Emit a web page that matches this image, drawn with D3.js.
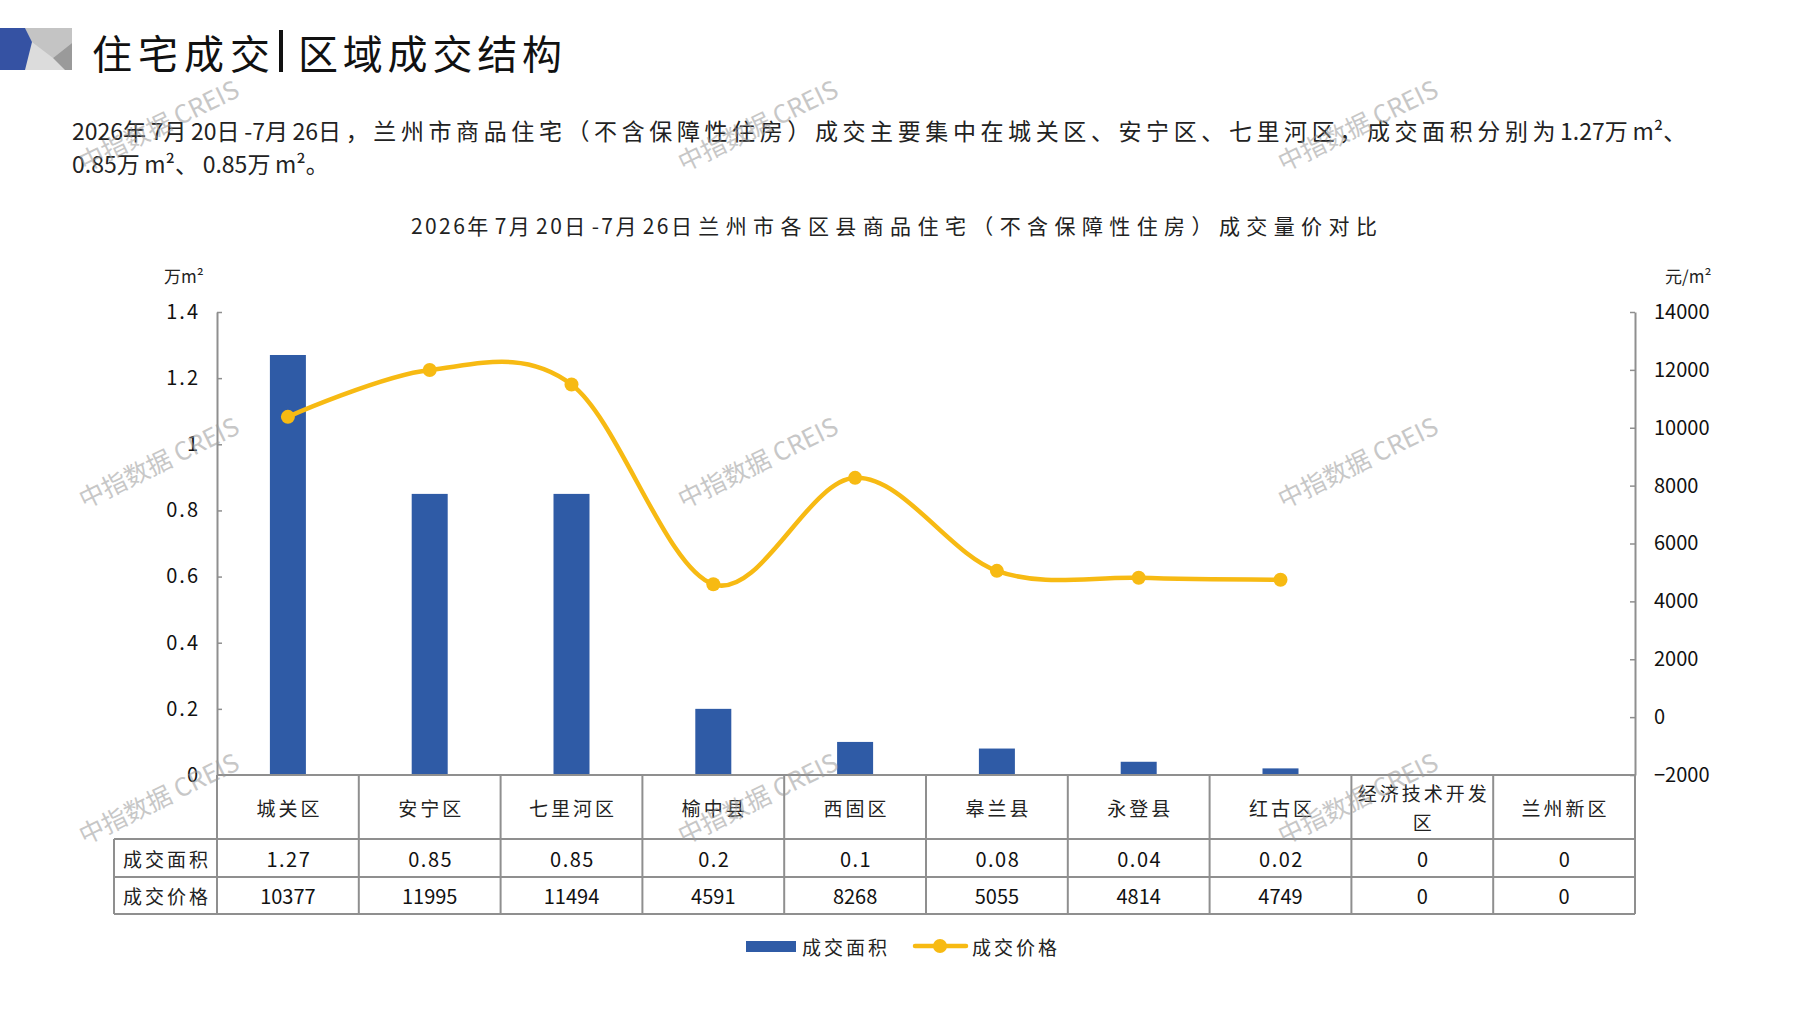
<!DOCTYPE html>
<html>
<head>
<meta charset="utf-8">
<script src="https://cdn.jsdelivr.net/npm/d3@7"></script>
<style>
  body { margin: 0; background: #fff; }
  svg { display: block; }
  text { font-family: "Noto Sans CJK SC", "Noto Sans", sans-serif; }
</style>
</head>
<body>
<script>
// data
const categories = ['城关区', '安宁区', '七里河区', '榆中县', '西固区', '皋兰县', '永登县', '红古区', '经济技术开发区', '兰州新区'];
const areaValues = [1.27, 0.85, 0.85, 0.2, 0.1, 0.08, 0.04, 0.02, 0, 0];
const priceValues = [10377, 11995, 11494, 4591, 8268, 5055, 4814, 4749, 0, 0];
const areaTicks = [0, 0.2, 0.4, 0.6, 0.8, 1, 1.2, 1.4];
const priceTicks = [-2000, 0, 2000, 4000, 6000, 8000, 10000, 12000, 14000];
const seriesNames = ['成交面积', '成交价格'];
const unitLeft = '万m²';
const unitRight = '元/m²';
const pageTitle = ['住宅成交', '区域成交结构'];
const summaryLines = [
  '2026年7月20日-7月26日，兰州市商品住宅（不含保障性住房）成交主要集中在城关区、安宁区、七里河区，成交面积分别为1.27万m²、',
  '0.85万m²、0.85万m²。'
];
const chartTitle = '2026年7月20日-7月26日兰州市各区县商品住宅（不含保障性住房）成交量价对比';
const watermark = '中指数据 CREIS';

let w = 1797;
let h = 1010;
let plotLeft = 217, plotRight = 1635, plotTop = 312, plotBottom = 775;
let rowH = [64, 38, 37];
let labelColX = 114;

let blue = '#2F5BA6';
let gold = '#F7BA13';
let gridGray = '#8f8f8f';

let svg = d3.select('body')
  .append('svg')
  .attr('width', w)
  .attr('height', h);

// splits a string into runs of wide (CJK) and narrow characters,
// so the two kinds can get different letter spacing
function spacedRuns(textSel, str, wideSpacing, narrowSpacing) {
  let runs = [];
  for (let ch of str) {
    let wide = ch.charCodeAt(0) > 0x2000 && ch !== '²';
    let last = runs[runs.length - 1];
    if (last && last.wide === wide) last.s += ch;
    else runs.push({ wide: wide, s: ch });
  }
  textSel.selectAll('tspan')
    .data(runs)
    .enter()
    .append('tspan')
    .attr('letter-spacing', (d) => d.wide ? wideSpacing : (narrowSpacing || 0))
    .text((d) => d.s);
}

// logo block
let logo = svg.append('g');
logo.append('polygon').attr('points', '25,28 72,28 72,70 25,70').attr('fill', '#dcdcdc');
logo.append('polygon').attr('points', '25,28 72,28 72,43 53,58 32,42').attr('fill', '#c4c4c4');
logo.append('polygon').attr('points', '72,43 53,58 65,70 72,70').attr('fill', '#9a9a9a');
logo.append('polygon').attr('points', '0,28 25,28 32,42 25,70 0,70').attr('fill', '#3552A3');

// page title
svg.append('text')
  .attr('x', 92).attr('y', 52)
  .attr('dominant-baseline', 'central')
  .attr('font-size', 40)
  .attr('textLength', 178).attr('lengthAdjust', 'spacing')
  .attr('fill', '#111')
  .text(pageTitle[0]);
svg.append('rect')
  .attr('x', 279).attr('y', 30).attr('width', 4).attr('height', 42)
  .attr('fill', '#111');
svg.append('text')
  .attr('x', 298).attr('y', 52)
  .attr('dominant-baseline', 'central')
  .attr('font-size', 40)
  .attr('textLength', 264).attr('lengthAdjust', 'spacing')
  .attr('fill', '#111')
  .text(pageTitle[1]);

// summary paragraph
summaryLines.forEach((s, i) => {
  let t = svg.append('text')
    .attr('x', 72)
    .attr('y', 130 + i * 33)
    .attr('dominant-baseline', 'central')
    .attr('font-size', 23)
    .attr('fill', '#222');
  spacedRuns(t, s, 4.6, 0);
});

// chart title
let titleText = svg.append('text')
  .attr('x', 411).attr('y', 225)
  .attr('dominant-baseline', 'central')
  .attr('font-size', 21)
  .attr('fill', '#222');
spacedRuns(titleText, chartTitle, 6.4, 2.4);

// scales
let xScale = d3.scaleBand()
  .domain(categories)
  .range([plotLeft, plotRight])
  .padding(0);

let yArea = d3.scaleLinear()
  .domain([0, 1.4])
  .range([plotBottom, plotTop]);

let yPrice = d3.scaleLinear()
  .domain([-2000, 14000])
  .range([plotBottom, plotTop]);

// unit labels
svg.append('text')
  .attr('x', 164).attr('y', 275)
  .attr('dominant-baseline', 'central')
  .attr('font-size', 17).attr('fill', '#222')
  .text(unitLeft);
svg.append('text')
  .attr('x', 1665).attr('y', 275)
  .attr('dominant-baseline', 'central')
  .attr('font-size', 17).attr('fill', '#222')
  .text(unitRight);

// bars
let barW = 36;
svg.append('g')
  .selectAll('rect')
  .data(areaValues)
  .enter()
  .append('rect')
  .attr('x', (d, i) => xScale(categories[i]) + xScale.bandwidth() / 2 - barW / 2)
  .attr('y', (d) => yArea(d))
  .attr('width', barW)
  .attr('height', (d) => plotBottom - yArea(d))
  .attr('fill', blue);

// axes
let yAxisLeft = d3.axisLeft()
  .scale(yArea)
  .tickValues(areaTicks)
  .tickFormat(d3.format('~g'))
  .tickSizeInner(-5)
  .tickSizeOuter(0)
  .tickPadding(19);

let yAxisRight = d3.axisRight()
  .scale(yPrice)
  .tickValues(priceTicks)
  .tickFormat((d) => String(d).replace('-', '−'))
  .tickSizeInner(-5)
  .tickSizeOuter(0)
  .tickPadding(19);

let gl = svg.append('g')
  .attr('class', 'y axis')
  .attr('transform', 'translate(' + plotLeft + ', 0)')
  .call(yAxisLeft);

let gr = svg.append('g')
  .attr('class', 'y axis')
  .attr('transform', 'translate(' + plotRight + ', 0)')
  .call(yAxisRight);

[gl, gr].forEach((g) => {
  g.select('.domain').attr('stroke', gridGray).attr('stroke-width', 2);
  g.selectAll('.tick line').attr('stroke', gridGray).attr('stroke-width', 1.5);
  g.selectAll('.tick text')
    .attr('font-size', 20)
    .attr('fill', '#111')
    .attr('font-family', '"Noto Sans CJK SC", sans-serif');
});
gl.selectAll('.tick text').attr('letter-spacing', 2).attr('dx', 2);
gl.selectAll('.tick').filter((d) => d === 0).select('line').remove();

// price line
let pricePoints = priceValues
  .map((v, i) => ({ cat: categories[i], v: v }))
  .filter((d) => d.v > 0);

let line = d3.line()
  .x((d) => xScale(d.cat) + xScale.bandwidth() / 2)
  .y((d) => yPrice(d.v))
  .curve(d3.curveCardinal.tension(0));

svg.append('path')
  .datum(pricePoints)
  .attr('d', line)
  .attr('fill', 'none')
  .attr('stroke', gold)
  .attr('stroke-width', 4.5)
  .attr('stroke-linecap', 'round');

svg.append('g')
  .selectAll('circle')
  .data(pricePoints)
  .enter()
  .append('circle')
  .attr('cx', (d) => xScale(d.cat) + xScale.bandwidth() / 2)
  .attr('cy', (d) => yPrice(d.v))
  .attr('r', 7)
  .attr('fill', gold);

// data table under the chart
let rowY = [plotBottom, plotBottom + rowH[0], plotBottom + rowH[0] + rowH[1], plotBottom + rowH[0] + rowH[1] + rowH[2]];
let table = svg.append('g').attr('stroke', gridGray).attr('stroke-width', 2);

table.append('line').attr('x1', plotLeft).attr('x2', plotRight).attr('y1', rowY[0]).attr('y2', rowY[0]);
rowY.slice(1).forEach((y) => {
  table.append('line').attr('x1', labelColX).attr('x2', plotRight).attr('y1', y).attr('y2', y);
});
table.append('line').attr('x1', labelColX).attr('x2', labelColX).attr('y1', rowY[1]).attr('y2', rowY[3]);
table.append('line').attr('x1', plotLeft).attr('x2', plotLeft).attr('y1', rowY[0]).attr('y2', rowY[3]);
categories.forEach((c) => {
  let x = xScale(c) + xScale.bandwidth();
  table.append('line').attr('x1', x).attr('x2', x).attr('y1', rowY[0]).attr('y2', rowY[3]);
});

// header labels (long names wrap after six characters)
categories.forEach((c) => {
  let cx = xScale(c) + xScale.bandwidth() / 2;
  let parts = [];
  for (let k = 0; k < c.length; k += 6) parts.push(c.slice(k, k + 6));
  let cy = (rowY[0] + rowY[1]) / 2;
  parts.forEach((p, j) => {
    svg.append('text')
      .attr('x', cx + 1.5)
      .attr('y', cy + (j - (parts.length - 1) / 2) * 29)
      .attr('text-anchor', 'middle')
      .attr('dominant-baseline', 'central')
      .attr('font-size', 19)
      .attr('letter-spacing', 3)
      .attr('fill', '#222')
      .text(p);
  });
});

// row labels and values
let rows = [areaValues, priceValues];
rows.forEach((vals, r) => {
  let cy = (rowY[r + 1] + rowY[r + 2]) / 2;
  svg.append('text')
    .attr('x', (labelColX + plotLeft) / 2 + 1.5)
    .attr('y', cy)
    .attr('text-anchor', 'middle')
    .attr('dominant-baseline', 'central')
    .attr('font-size', 19)
    .attr('letter-spacing', 3)
    .attr('fill', '#222')
    .text(seriesNames[r]);
  vals.forEach((v, i) => {
    svg.append('text')
      .attr('x', xScale(categories[i]) + xScale.bandwidth() / 2 + (r === 0 ? 1 : 0))
      .attr('y', cy)
      .attr('text-anchor', 'middle')
      .attr('dominant-baseline', 'central')
      .attr('font-size', 20)
      .attr('letter-spacing', r === 0 ? 1.5 : 0)
      .attr('fill', '#111')
      .text(String(v));
  });
});

// legend
let legend = svg.append('g');
legend.append('rect')
  .attr('x', 746).attr('y', 941).attr('width', 50).attr('height', 11)
  .attr('fill', blue);
legend.append('text')
  .attr('x', 802).attr('y', 946)
  .attr('dominant-baseline', 'central')
  .attr('font-size', 19).attr('letter-spacing', 3).attr('fill', '#222')
  .text(seriesNames[0]);
legend.append('line')
  .attr('x1', 915).attr('x2', 966).attr('y1', 946).attr('y2', 946)
  .attr('stroke', gold).attr('stroke-width', 4.5).attr('stroke-linecap', 'round');
legend.append('circle')
  .attr('cx', 940).attr('cy', 946).attr('r', 7)
  .attr('fill', gold);
legend.append('text')
  .attr('x', 972).attr('y', 946)
  .attr('dominant-baseline', 'central')
  .attr('font-size', 19).attr('letter-spacing', 3).attr('fill', '#222')
  .text(seriesNames[1]);

// watermarks on top
let markX = [158, 757, 1357];
let markY = [124, 461, 797];
let marks = [];
markY.forEach((y) => markX.forEach((x) => marks.push([x, y])));
svg.append('g')
  .selectAll('text')
  .data(marks)
  .enter()
  .append('text')
  .attr('transform', (d) => 'translate(' + d[0] + ',' + d[1] + ') rotate(-26)')
  .attr('text-anchor', 'middle')
  .attr('dominant-baseline', 'central')
  .attr('font-size', 25)
  .attr('font-family', '"Liberation Sans", "Noto Sans CJK SC", sans-serif')
  .attr('fill', '#9a9a9a')
  .attr('opacity', 0.55)
  .text(watermark);
</script>
</body>
</html>
